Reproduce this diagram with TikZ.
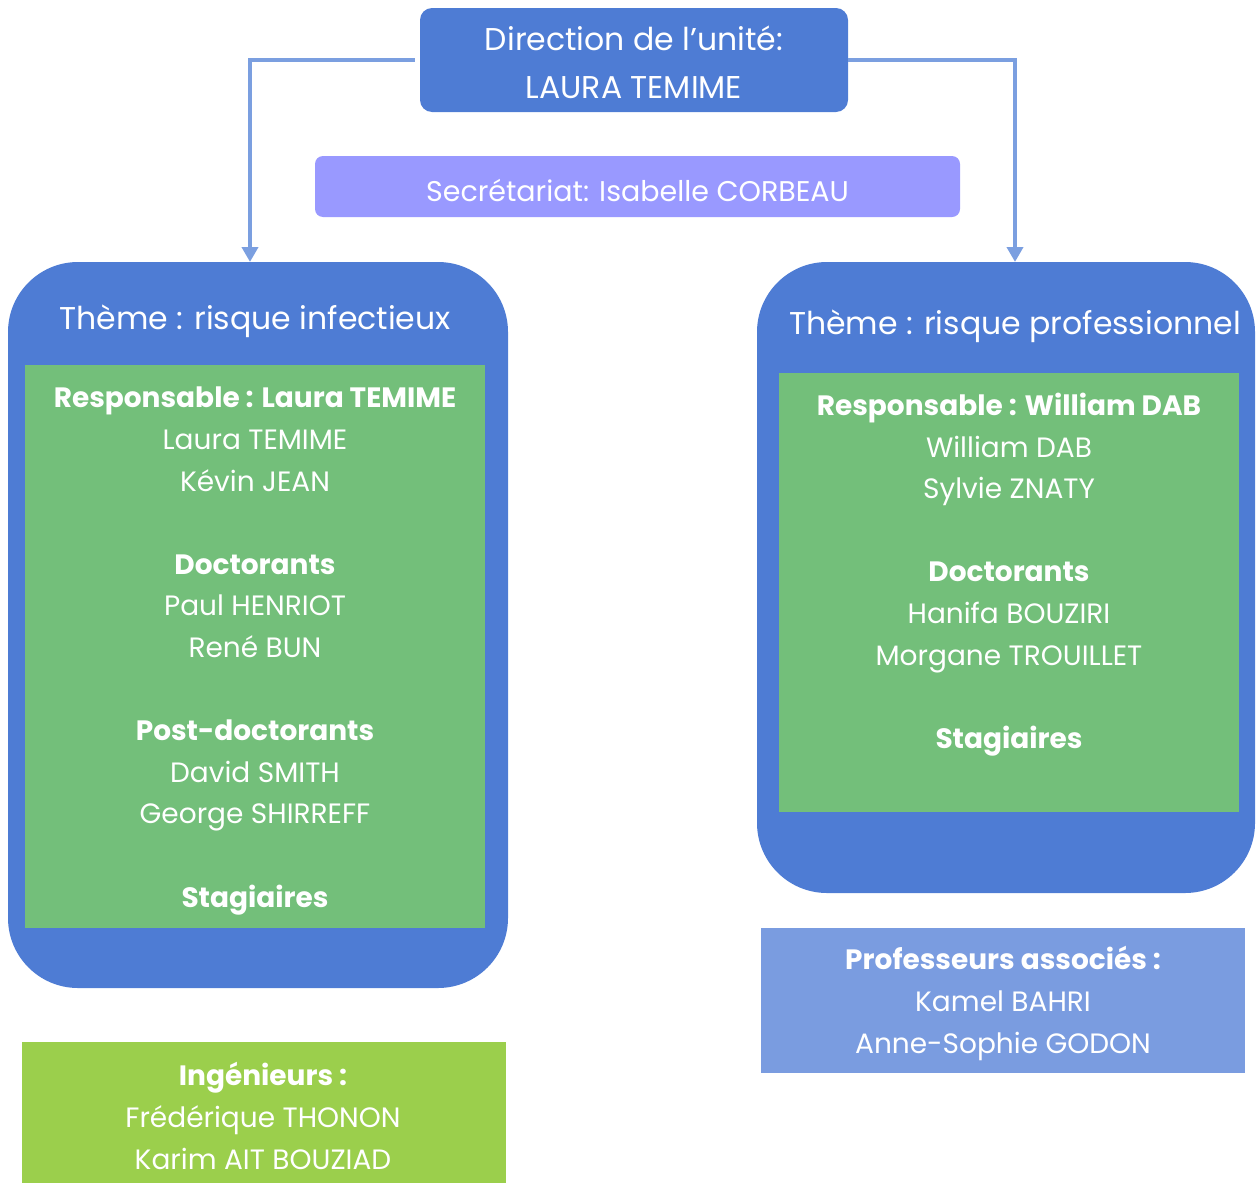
\documentclass[tikz,border=0pt]{standalone}
\usepackage{fontspec}
\setmainfont{Poppins}
\usetikzlibrary{arrows.meta}
\definecolor{dirblue}{RGB}{78,124,212}
\definecolor{secviolet}{RGB}{153,153,255}
\definecolor{grn}{RGB}{115,191,122}
\definecolor{lime}{RGB}{155,207,76}
\definecolor{profblue}{RGB}{122,156,224}
\definecolor{arrowblue}{RGB}{123,159,224}
\tikzset{
  box/.style={rectangle, inner sep=0pt, draw=none},
  txt/.style={text=white, align=center, inner sep=0pt},
  bodyfont/.style={font=\fontsize{28}{41.6}\selectfont},
  link/.style={draw=arrowblue, line width=4pt, -{Triangle[width=16pt,length=15pt]}},
}
\begin{document}
\begin{tikzpicture}[x=1pt,y=-1pt]
\useasboundingbox (0,0) rectangle (1260,1183);
% top
\node[box, fill=dirblue, rounded corners=12pt, minimum width=428pt, minimum height=104pt] (dir) at (634,60) {};
\node[txt, font=\fontsize{31.5}{48}\selectfont] (dirt) at (634,62) {Direction de l’unité:\\LAURA TEMIME};
\node[box, fill=secviolet, rounded corners=8pt, minimum width=645pt, minimum height=61pt] (sec) at (637.5,186.5) {};
\node[txt, font=\fontsize{28.5}{30}\selectfont] (sect) at (637.5,190) {Secrétariat: Isabelle CORBEAU};
% left theme
\node[box, fill=dirblue, rounded corners=70pt, minimum width=500pt, minimum height=726pt] (thL) at (258,625) {};
\node[txt, font=\fontsize{31.5}{34}\selectfont] (thLt) at (255,321) {Thème : risque infectieux};
\node[box, fill=grn, minimum width=460pt, minimum height=563pt] (gL) at (255,646.5) {};
\node[txt, bodyfont] (gLt) at (255,651) {\textbf{Responsable : Laura TEMIME}\\Laura TEMIME\\Kévin JEAN\\~\\\textbf{Doctorants}\\Paul HENRIOT\\René BUN\\~\\\textbf{Post-doctorants}\\David SMITH\\George SHIRREFF\\~\\\textbf{Stagiaires}};
% right theme
\node[box, fill=dirblue, rounded corners=70pt, minimum width=498pt, minimum height=631pt] (thR) at (1006,577.5) {};
\node[txt, font=\fontsize{31.5}{34}\selectfont] (thRt) at (1015,326) {Thème : risque professionnel};
\node[box, fill=grn, minimum width=460pt, minimum height=439pt] (gR) at (1009,592.5) {};
\node[txt, bodyfont] (gRt) at (1009,574.5) {\textbf{Responsable : William DAB}\\William DAB\\Sylvie ZNATY\\~\\\textbf{Doctorants}\\Hanifa BOUZIRI\\Morgane TROUILLET\\~\\\textbf{Stagiaires}};
% bottom boxes
\node[box, fill=lime, minimum width=484pt, minimum height=141pt] (ing) at (264,1112.5) {};
\node[txt, bodyfont] (ingt) at (263,1116) {\textbf{Ingénieurs :}\\Frédérique THONON\\Karim AIT BOUZIAD};
\node[box, fill=profblue, minimum width=484pt, minimum height=145pt] (prof) at (1003,1000.5) {};
\node[txt, bodyfont] (proft) at (1003,1003.5) {\textbf{Professeurs associés :}\\Kamel BAHRI\\Anne-Sophie GODON};
% connectors
\coordinate (aL) at (250,262);
\coordinate (aR) at (1015,262);
\draw[link] ([xshift=-5pt]dir.west) -| (aL);
\draw[link] (dir.east) -| (aR);
\end{tikzpicture}
\end{document}
